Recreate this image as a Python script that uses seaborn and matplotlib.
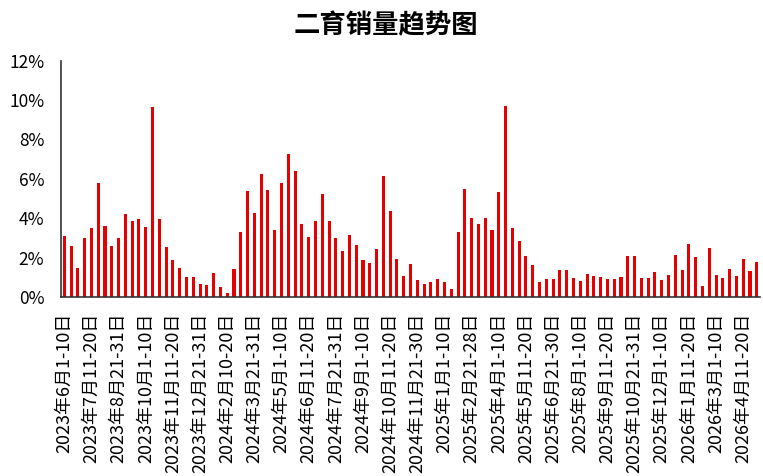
import matplotlib
matplotlib.use('Agg')
import matplotlib.pyplot as plt
import seaborn as sns
import pandas as pd
from matplotlib.ticker import PercentFormatter

sns.set_theme(style='white')
plt.rcParams['font.family'] = ['Noto Sans CJK SC', 'DejaVu Sans']

categories = [
    '2023年6月1-10日', '2023年6月11-20日', '2023年6月21-30日',
    '2023年7月1-10日', '2023年7月11-20日', '2023年7月21-31日',
    '2023年8月1-10日', '2023年8月11-20日', '2023年8月21-31日',
    '2023年9月1-10日', '2023年9月11-20日', '2023年9月21-30日',
    '2023年10月1-10日', '2023年10月11-20日', '2023年10月21-31日',
    '2023年11月1-10日', '2023年11月11-20日', '2023年11月21-30日',
    '2023年12月1-10日', '2023年12月11-20日', '2023年12月21-31日',
    '2024年1月1-10日', '2024年1月11-20日', '2024年1月21日-2月9日',
    '2024年2月10-20日', '2024年2月21-29日',
    '2024年3月1-10日', '2024年3月11-20日', '2024年3月21-31日',
    '2024年4月1-10日', '2024年4月11-20日', '2024年4月21-30日',
    '2024年5月1-10日', '2024年5月11-20日', '2024年5月21-31日',
    '2024年6月1-10日', '2024年6月11-20日', '2024年6月21-30日',
    '2024年7月1-10日', '2024年7月11-20日', '2024年7月21-31日',
    '2024年8月1-10日', '2024年8月11-20日', '2024年8月21-31日',
    '2024年9月1-10日', '2024年9月11-20日', '2024年9月21-30日',
    '2024年10月1-10日', '2024年10月11-20日', '2024年10月21-31日',
    '2024年11月1-10日', '2024年11月11-20日', '2024年11月21-30日',
    '2024年12月1-10日', '2024年12月11-20日', '2024年12月21-31日',
    '2025年1月1-10日', '2025年1月11-20日', '2025年1月21日-2月10日',
    '2025年2月11-20日', '2025年2月21-28日',
    '2025年3月1-10日', '2025年3月11-20日', '2025年3月21-31日',
    '2025年4月1-10日', '2025年4月11-20日', '2025年4月21-30日',
    '2025年5月1-10日', '2025年5月11-20日', '2025年5月21-31日',
    '2025年6月1-10日', '2025年6月11-20日', '2025年6月21-30日',
    '2025年7月1-10日', '2025年7月11-20日', '2025年7月21-31日',
    '2025年8月1-10日', '2025年8月11-20日', '2025年8月21-31日',
    '2025年9月1-10日', '2025年9月11-20日', '2025年9月21-30日',
    '2025年10月1-10日', '2025年10月11-20日', '2025年10月21-31日',
    '2025年11月1-10日', '2025年11月11-20日', '2025年11月21-30日',
    '2025年12月1-10日', '2025年12月11-20日', '2025年12月21-31日',
    '2026年1月1-10日', '2026年1月11-20日', '2026年1月21-31日',
    '2026年2月1-10日', '2026年2月11-28日',
    '2026年3月1-10日', '2026年3月11-20日', '2026年3月21-31日',
    '2026年4月1-10日', '2026年4月11-20日', '2026年4月21-30日',
    '2026年5月1-10日',
]

values = [
    3.08, 2.58, 1.49, 3.00, 3.49, 5.78, 3.59, 2.59, 3.00, 4.20,
    3.86, 3.95, 3.54, 9.63, 3.95, 2.54, 1.90, 1.49, 1.00, 1.00,
    0.68, 0.59, 1.22, 0.49, 0.19, 1.41, 3.32, 5.37, 4.29, 6.24,
    5.42, 3.42, 5.78, 7.25, 6.42, 3.69, 3.03, 3.88, 5.24, 3.88,
    3.00, 2.32, 3.14, 2.63, 1.86, 1.73, 2.42, 6.12, 4.37, 1.92,
    1.05, 1.69, 0.85, 0.68, 0.78, 0.90, 0.78, 0.41, 3.29, 5.47,
    4.00, 3.69, 4.00, 3.39, 5.32, 9.71, 3.51, 2.83, 2.10, 1.64,
    0.78, 0.92, 0.92, 1.36, 1.36, 0.95, 0.81, 1.19, 1.08, 1.03,
    0.90, 0.90, 1.00, 2.10, 2.10, 0.95, 0.95, 1.27, 0.85, 1.14,
    2.14, 1.36, 2.68, 2.05, 0.54, 2.51, 1.14, 0.95, 1.41, 1.08,
    1.95, 1.32, 1.76,
]

title = '二育销量趋势图'
y_ticks = [0, 2, 4, 6, 8, 10, 12]

df = pd.DataFrame({'period': categories, 'share': values})

fig = plt.figure(figsize=(7.63, 4.76), dpi=100)
ax = fig.add_axes([0.0798, 0.376, 0.9165, 0.4965])
sns.barplot(data=df, x='period', y='share', color='#E60000', saturation=1,
            width=0.45, linewidth=0, ax=ax)

n = len(categories)
ax.set_xlim(-0.5, n - 0.5)
ax.set_ylim(0, 12)
ax.set_yticks(y_ticks)
ax.yaxis.set_major_formatter(PercentFormatter(xmax=100, decimals=0))

label_idx = list(range(0, n, 4))
ax.set_xticks(label_idx)
ax.set_xticklabels([categories[i] for i in label_idx], rotation=90,
                   fontsize=13, color='#000000')
ax.set_xticks([9.5 + 10 * k for k in range(10)], minor=True)
ax.tick_params(axis='x', which='major', length=0, pad=11)
ax.tick_params(axis='x', which='minor', direction='in', length=5, width=1,
               color='#333333')
ax.tick_params(axis='y', direction='in', length=5, width=1, color='#333333',
               labelsize=12.5, pad=12, labelcolor='#000000')

for s in ['top', 'right']:
    ax.spines[s].set_visible(False)
for s in ['left', 'bottom']:
    ax.spines[s].set_color('#333333')
    ax.spines[s].set_linewidth(1.2)

ax.set_xlabel('')
ax.set_ylabel('')

fig.text(0.506, 0.947, title, ha='center', va='center', fontsize=19,
         fontweight='bold', color='#000000')

fig.savefig('out.png', dpi=100)
